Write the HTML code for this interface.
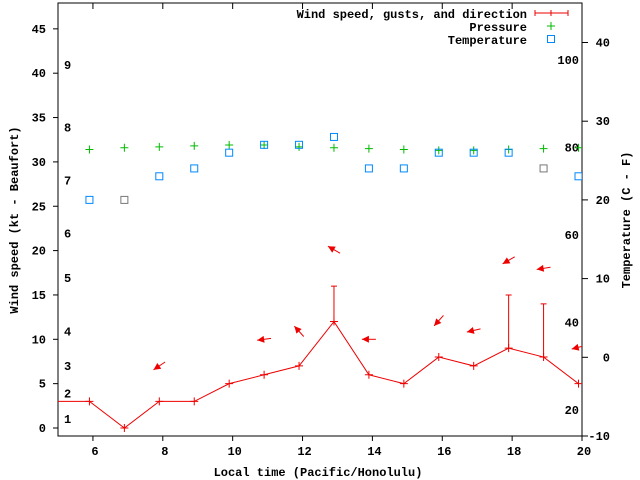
<!DOCTYPE html>
<html><head><meta charset="utf-8"><style>
html,body{margin:0;padding:0;background:#fff}
svg{display:block}
text{font-family:"Liberation Mono",monospace;font-size:12px;font-weight:bold;fill:#000}
</style></head><body>
<svg id="chart" width="640" height="480" xmlns="http://www.w3.org/2000/svg">
<g id="axes"></g>
<g id="marks"></g>
<text x="318" y="476" text-anchor="middle">Local time (Pacific/Honolulu)</text>
<text transform="translate(18,220) rotate(-90)" text-anchor="middle">Wind speed (kt - Beaufort)</text>
<text transform="translate(630,220) rotate(-90)" text-anchor="middle">Temperature (C - F)</text>
<g>
<text x="527" y="18" text-anchor="end">Wind speed, gusts, and direction</text>
<path d="M535 13H568M535 10V16M568 10V16M551 10V16" stroke="#e00" stroke-width="1" fill="none"/>
<text x="527" y="31" text-anchor="end">Pressure</text>
<path d="M547 26H555M551 22V30" stroke="#0b0" stroke-width="1"/>
<text x="527" y="44" text-anchor="end">Temperature</text>
<rect x="547.5" y="35.5" width="7" height="7" fill="none" stroke="#08f"/>
</g>
</svg>
<script>
const hours = [5.9,6.9,7.9,8.9,9.9,10.9,11.9,12.9,13.9,14.9,15.9,16.9,17.9,18.9,19.9];
const windSpeed = [3,0,3,3,5,6,7,12,6,5,8,7,9,8,5];
const gusts = [null,null,null,null,null,null,null,16,null,null,null,null,15,14,null];
const pressure = [31.4,31.6,31.7,31.8,31.9,31.9,31.7,31.6,31.5,31.4,31.3,31.3,31.4,31.5,31.6];
const temperature = [20,20,23,24,26,27,27,28,24,24,26,26,26,24,23];
const arrowHours = [7.9,10.9,11.9,12.9,13.9,15.9,16.9,17.9,18.9,19.9];
const arrowLevel = [7.0,10.0,10.9,20.1,10.0,12.1,11.0,18.9,18.0,9.1];
const windFrom = [56,82,138,120,90,42,77,60,81,76];
const xTicks = [6,8,10,12,14,16,18,20];
const yTicks = [0,5,10,15,20,25,30,35,40,45];
const y2Ticks = [-10,0,10,20,30,40];
const fLabels = [20,40,60,80,100];
const beaufortLabels = ['1','2','3','4','5','6','7','8','9'];
const beaufortKt = [1.0,3.9,7.0,10.9,16.9,21.9,27.9,33.9,40.9];

const L=58,R=582,T=3,B=436;
const X = h => L + (h-5)*(R-L)/15;
const Y = v => 428 - v*8.87;
const Y2 = c => 357.3 - c*7.87;
const NS='http://www.w3.org/2000/svg';
const axes=document.getElementById('axes'), marks=document.getElementById('marks');
function mk(tag, attrs, parent){const e=document.createElementNS(NS,tag);for(const k in attrs)e.setAttribute(k,attrs[k]);parent.appendChild(e);return e;}

let e = mk('rect',{x:L,y:T,width:R-L,height:B-T,fill:'none',stroke:'#000','stroke-width':1},axes);


xTicks.forEach(h=>{
  const x=X(h);
  let t=mk('path',{d:`M${x} ${B}V${B+5}M${x} ${T}V${T+6}`,stroke:'#000'},axes);
  
  
  let l=mk('text',{x:x+2,y:B+19,'text-anchor':'middle'},axes);l.textContent=h;
  
  
});
yTicks.forEach(v=>{
  const y=Y(v);
  let t=mk('path',{d:`M${L-5} ${y}H${L}`,stroke:'#000'},axes);
  
  
  let l=mk('text',{x:46,y:y+4,'text-anchor':'end'},axes);l.textContent=v;
  
  
});
y2Ticks.forEach(c=>{
  const y=Y2(c);
  let t=mk('path',{d:`M${R} ${y}H${R+6}`,stroke:'#000'},axes);
  
  
  let l=mk('text',{x:610,y:y+4,'text-anchor':'end'},axes);l.textContent=c;
  
  
});
fLabels.forEach(f=>{
  const y=Y2((f-32)*5/9);
  let l=mk('text',{x:579,y:y+4,'text-anchor':'end'},axes);l.textContent=f;
  
  
});
beaufortLabels.forEach((b,i)=>{
  let l=mk('text',{x:64,y:Y(beaufortKt[i])+4},axes);l.textContent=b;
  
  
});
// clip
const defs=mk('defs',{},marks);
const cp=mk('clipPath',{id:'clip'},defs);
mk('rect',{x:L,y:T,width:R-L,height:B-T},cp);
const g=mk('g',{'clip-path':'url(#clip)'},marks);


// wind line (extend to left edge with first value)
let pts=[[X(4.9),Y(windSpeed[0])]].concat(hours.map((h,i)=>[X(h),Y(windSpeed[i])]));
let wl=mk('polyline',{points:pts.map(p=>p.join(',')).join(' '),fill:'none',stroke:'#e00','stroke-width':1},g);


hours.forEach((h,i)=>{
  const x=X(h),y=Y(windSpeed[i]);
  let p=mk('path',{d:`M${x-4} ${y}H${x+4}M${x} ${y-4}V${y+4}`,stroke:'#e00'},g);
  
  
  if(gusts[i]!=null){
    let gb=mk('path',{d:`M${x} ${y}V${Y(gusts[i])}M${x-3} ${Y(gusts[i])}H${x+3}`,stroke:'#e00'},g);
    
    
  }
  const px=X(h),py=Y(pressure[i]);
  let pp=mk('path',{d:`M${px-4} ${py}H${px+4}M${px} ${py-4}V${py+4}`,stroke:'#0b0'},g);
  
  
  const ty=Y2(temperature[i]);
  let tr=mk('rect',{x:px-3.5,y:ty-3.5,width:7,height:7,fill:'none',stroke:(i==1||i==13)?'#777':'#08f'},g);
  
  
});
arrowHours.forEach((h,i)=>{
  const cx=X(h),cy=Y(arrowLevel[i]);
  const b=(windFrom[i]+180)*Math.PI/180;
  const dx=Math.sin(b),dy=-Math.cos(b);
  const hx=cx+dx*7,hy=cy+dy*7,tx=cx-dx*7,ty=cy-dy*7;
  const bx=hx-dx*7,by=hy-dy*7,nx=-dy,ny=dx;
  let a=mk('g',{},g);
  
  
  mk('line',{x1:tx,y1:ty,x2:hx,y2:hy,stroke:'#e00'},a);
  mk('polygon',{points:`${hx},${hy} ${bx+nx*3.5},${by+ny*3.5} ${bx-nx*3.5},${by-ny*3.5}`,fill:'#e00'},a);
});
</script>
</body></html>
